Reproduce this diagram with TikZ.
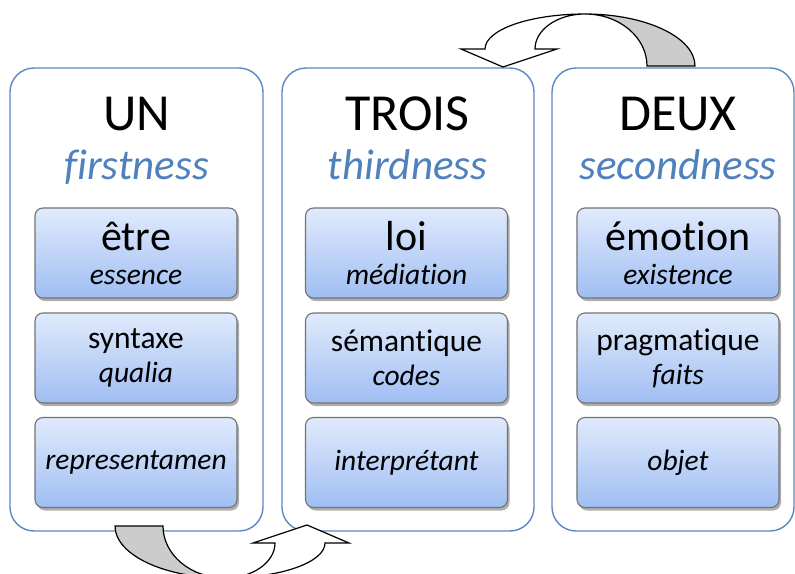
\documentclass[tikz,border=0pt]{standalone}
\usepackage{fontspec}
\setmainfont{Carlito}[Ligatures=NoCommon]
\usetikzlibrary{positioning,shadows}
\definecolor{frameblue}{HTML}{5B87C5}
\definecolor{titleblue}{HTML}{4F81BD}
\definecolor{boxtop}{HTML}{E0EAFC}
\definecolor{boxbottom}{HTML}{A0BEF3}
\definecolor{boxedge}{HTML}{737373}
\definecolor{arrowgray}{HTML}{CCCCCC}
\newcommand{\bigline}[1]{{\fontsize{42}{34}\selectfont #1}}
\newcommand{\midline}[1]{{\fontsize{31.5}{34}\selectfont #1}}
\tikzset{
  colframe/.style={draw=frameblue, line width=1.4pt, rounded corners=24pt, fill=white, minimum height=463pt, inner sep=0pt},
  catbox/.style={draw=boxedge, line width=1.1pt, rounded corners=8pt, top color=boxtop, bottom color=boxbottom, minimum width=202pt, minimum height=90pt, inner sep=0pt, align=center, drop shadow={shadow xshift=2pt, shadow yshift=-3pt, opacity=0.45, fill=black!70}, font=\fontsize{29.5}{34}\selectfont},
  bigtitle/.style={anchor=base, font=\fontsize{52}{60}\selectfont},
  subtitle/.style={anchor=base, text=titleblue, font=\fontsize{43}{50}\selectfont\itshape},
  arrowline/.style={draw=black, line width=1.2pt, line join=miter},
  bendarrow/.pic={
    \path[arrowline, fill=arrowgray] (0,0) arc[start angle=-90, end angle=0, x radius=110, y radius=52] -- (62,52) arc[start angle=0, end angle=-90, x radius=62, y radius=52] -- cycle;
    \path[arrowline, fill=white] (-124,35) -- (-82,53) -- (-28,35) -- (-50,35) arc[start angle=180, end angle=270, x radius=50, y radius=35] arc[start angle=-90, end angle=-180, x radius=100, y radius=35] -- cycle;
  }
}
\begin{document}
\begin{tikzpicture}[x=1pt, y=-1pt]
  \useasboundingbox (0,0) rectangle (795,573);
  % three columns
  \node[colframe, minimum width=253pt] (colun) at (136.5,299.5) {};
  \node[colframe, minimum width=252pt] (coltrois) at (408,299.5) {};
  \node[colframe, minimum width=242pt] (coldeux) at (673,299.5) {};
  % headings
  \node[bigtitle] (un) at (136.5,130) {UN};
  \node[subtitle] (first) at (136.5,179) {firstness};
  \node[bigtitle] (trois) at (407.5,130) {TROIS};
  \node[subtitle] (third) at (407.5,179) {thirdness};
  \node[bigtitle] (deux) at (678,130) {DEUX};
  \node[subtitle] (second) at (678,179) {secondness};
  % boxes
  \node[catbox] (etre) at (136,253) {\bigline{être}\\\textit{essence}};
  \node[catbox] (syntaxe) at (136,358) {\midline{syntaxe}\\\textit{qualia}};
  \node[catbox] (repr) at (136,462.5) {\textit{representamen}};
  \node[catbox] (loi) at (406.5,253) {\bigline{loi}\\\textit{médiation}};
  \node[catbox] (semantique) at (406.5,358) {\midline{sémantique}\\\textit{codes}};
  \node[catbox] (interp) at (406.5,462.5) {\textit{interprétant}};
  \node[catbox] (emotion) at (678,253) {\bigline{émotion}\\\textit{existence}};
  \node[catbox] (pragma) at (678,358) {\midline{pragmatique}\\\textit{faits}};
  \node[catbox] (objet) at (678,462.5) {\textit{objet}};
  % curved arrows
  \pic at (585,14) {bendarrow};
  \pic[rotate=180] at (225,578) {bendarrow};
\end{tikzpicture}
\end{document}
